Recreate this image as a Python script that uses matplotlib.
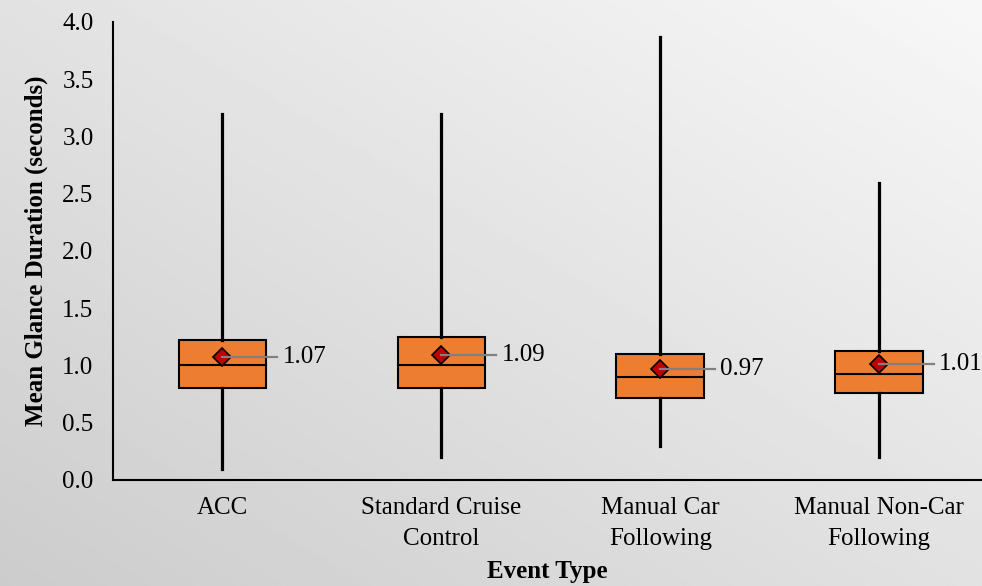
import matplotlib.pyplot as plt
import numpy as np

# Box statistics
categories = ['ACC', 'Standard Cruise\nControl', 'Manual Car\nFollowing', 'Manual Non-Car\nFollowing']
whisker_low = [0.10, 0.20, 0.30, 0.20]
q1 = [0.80, 0.80, 0.72, 0.76]
median = [1.00, 1.00, 0.90, 0.93]
q3 = [1.22, 1.25, 1.10, 1.13]
whisker_high = [3.20, 3.20, 3.87, 2.59]
means = [1.07, 1.09, 0.97, 1.01]

plt.rcParams['font.family'] = ['Liberation Serif', 'DejaVu Serif']
FS = 18

fig = plt.figure(figsize=(9.82, 5.86), dpi=100)

# light grey backdrop, a bit darker towards the lower left
bg = fig.add_axes([0, 0, 1, 1], zorder=-10)
gx, gy = np.meshgrid(np.linspace(0, 1, 200), np.linspace(0, 1, 200))
shade = 0.80 + 0.17 * 0.5 * (gx + (1 - gy))
bg.imshow(shade, cmap='gray', vmin=0, vmax=1, extent=[0, 1, 0, 1],
          aspect='auto', origin='upper')
bg.axis('off')

ax = fig.add_axes([0.1151, 0.1809, 0.8849, 0.7816])
ax.set_facecolor('none')

stats = []
for i in range(len(categories)):
    stats.append({'whislo': whisker_low[i], 'q1': q1[i], 'med': median[i],
                  'q3': q3[i], 'whishi': whisker_high[i], 'mean': means[i],
                  'fliers': []})

pos = np.arange(len(categories))
ax.bxp(stats, positions=pos, widths=0.40, showcaps=False, showmeans=True,
       patch_artist=True, showfliers=False,
       boxprops=dict(facecolor='#ED7D31', edgecolor='black', linewidth=1.5),
       medianprops=dict(color='black', linewidth=1.5),
       whiskerprops=dict(color='black', linewidth=2.3),
       meanprops=dict(marker='D', markerfacecolor='#C00000', markeredgecolor='black',
                      markersize=9, markeredgewidth=1.2))

# mean labels with grey leader lines
for i, m in enumerate(means):
    ax.plot([pos[i], pos[i] + 0.25], [m, m], color='#808080', linewidth=1.6, zorder=4)
    ax.text(pos[i] + 0.275, m, f'{m:.2f}', ha='left', va='center', fontsize=FS)

ax.set_xlim(-0.5, 3.47)
ax.set_ylim(0, 4.0)
ax.set_yticks(np.arange(0, 4.01, 0.5))
ax.set_yticklabels([f'{v:.1f}' for v in np.arange(0, 4.01, 0.5)])
ax.set_xticks(pos)
ax.set_xticklabels(categories, linespacing=1.55)
ax.tick_params(axis='both', length=0, labelsize=FS)
ax.tick_params(axis='y', pad=14)
ax.tick_params(axis='x', pad=12)

for side in ['top', 'right']:
    ax.spines[side].set_visible(False)
for side in ['left', 'bottom']:
    ax.spines[side].set_linewidth(1.5)
    ax.spines[side].set_color('black')

ax.set_ylabel('Mean Glance Duration (seconds)', fontsize=FS, fontweight='bold', labelpad=10)
ax.set_xlabel('Event Type', fontsize=FS, fontweight='bold', labelpad=7)

fig.savefig('out.png', dpi=100)
